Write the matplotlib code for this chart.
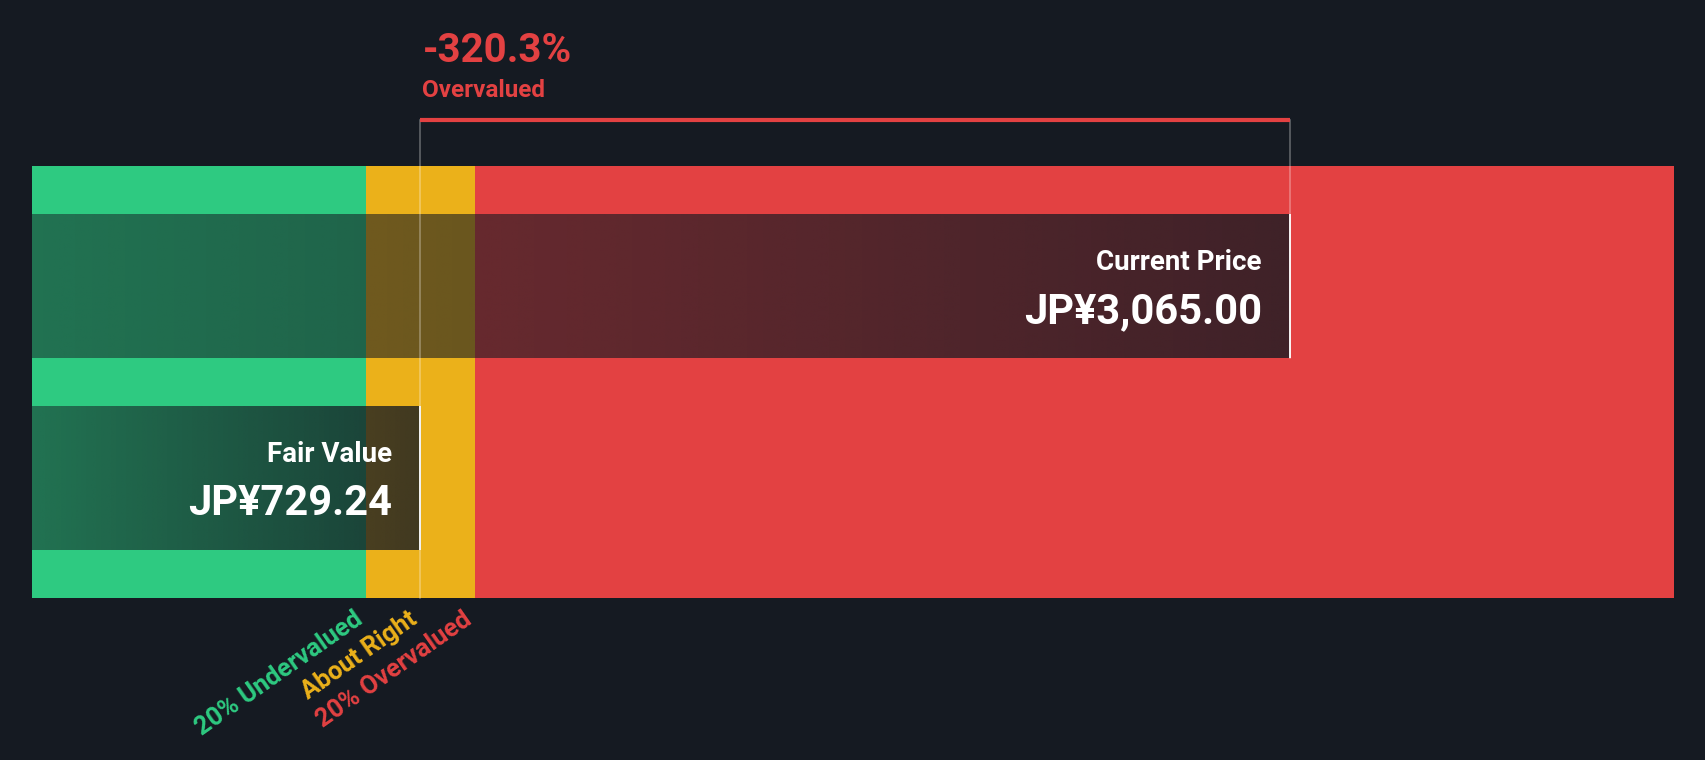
import matplotlib
matplotlib.use("Agg")
import matplotlib.pyplot as plt
import numpy as np
from matplotlib.transforms import offset_copy
from matplotlib.colors import to_rgb

# ---------------- data ----------------
currency = "JP¥"
fair_value = 729.24
current_price = 3065.00
bar_names = ["Current Price", "Fair Value"]
bar_values = [current_price, fair_value]
zone_labels = ["20% Undervalued", "About Right", "20% Overvalued"]
zone_factors = [0.8, 1.0, 1.2]
axis_min, axis_max = -314.3, 4096.6
verdict = "Overvalued"

# ---------------- style ----------------
BG = "#151a22"
GREEN = "#2eca81"
YELLOW = "#ebb11a"
RED = "#e34142"
zone_colors = [GREEN, YELLOW, RED]
FONT = ["Roboto", "DejaVu Sans"]

plt.rcParams["font.family"] = FONT

W, H, DPI = 1706, 760, 100
fig = plt.figure(figsize=(W / DPI, H / DPI), dpi=DPI, facecolor=BG)
ax = fig.add_axes([32 / W, 0, 1642 / W, 1])
ax.set_facecolor(BG)
ax.axis("off")

band_top, band_bottom = -0.625, 1.625
bar_h = 0.75
bracket_y = -0.865

# zone band
edges = [axis_min, fair_value * zone_factors[0], fair_value * zone_factors[2], axis_max]
for i in range(3):
    ax.barh(0.5, edges[i + 1] - edges[i], left=edges[i], height=band_bottom - band_top,
            color=zone_colors[i], linewidth=0, zorder=1)

# overlay boxes with gradient
bg_rgb = np.array(to_rgb(BG))
grad = np.zeros((1, 256, 4))
grad[..., :3] = bg_rgb
grad[..., 3] = np.linspace(0.5, 0.8, 256)
for i, v in enumerate(bar_values):
    ax.imshow(grad, extent=(axis_min, v, i + bar_h / 2, i - bar_h / 2),
              aspect="auto", interpolation="bilinear", zorder=2)
    ax.plot([v, v], [i - bar_h / 2, i + bar_h / 2], color="white", lw=1.3, zorder=4,
            solid_capstyle="butt")

# thin guide lines
ax.plot([fair_value, fair_value], [bracket_y, band_bottom], color="white", alpha=0.35,
        lw=1.1, zorder=3)
ax.plot([current_price, current_price], [bracket_y, 0 + bar_h / 2], color="white",
        alpha=0.35, lw=1.1, zorder=3)
# bracket
ax.plot([fair_value, current_price], [bracket_y, bracket_y], color=RED, lw=3,
        solid_capstyle="butt", zorder=4)

# headline
pct = (fair_value - current_price) / fair_value * 100
tr_r = offset_copy(ax.transData, fig=fig, x=2, y=0, units="dots")
ax.text(fair_value, -1.167, f"{pct:.1f}%", transform=tr_r, color=RED, fontsize=29,
        fontweight="bold", ha="left", va="baseline")
ax.text(fair_value, -0.984, verdict, transform=tr_r, color=RED, fontsize=17.5,
        fontweight="bold", ha="left", va="baseline")

# box labels
tr_l = offset_copy(ax.transData, fig=fig, x=-28, y=0, units="dots")
for i, (name, v) in enumerate(zip(bar_names, bar_values)):
    ax.text(v, i - 0.083, name, transform=tr_l, color="white", fontsize=20,
            fontweight="bold", ha="right", va="baseline", zorder=5)
    ax.text(v, i + 0.195, f"{currency}{v:,.2f}", transform=tr_l, color="white",
            fontsize=30, fontweight="bold", ha="right", va="baseline", zorder=5)

# zone labels
tr_d = offset_copy(ax.transData, fig=fig, x=1, y=-9, units="dots")
for lab, f, c in zip(zone_labels, zone_factors, zone_colors):
    ax.text(fair_value * f, band_bottom, lab, transform=tr_d, color=c, fontsize=18.3,
            fontweight="bold", rotation=35, ha="right", va="top")

ax.set_xlim(axis_min, axis_max)
ax.set_ylim(2.469, -1.49)

fig.savefig("out.png", dpi=DPI, facecolor=BG)
